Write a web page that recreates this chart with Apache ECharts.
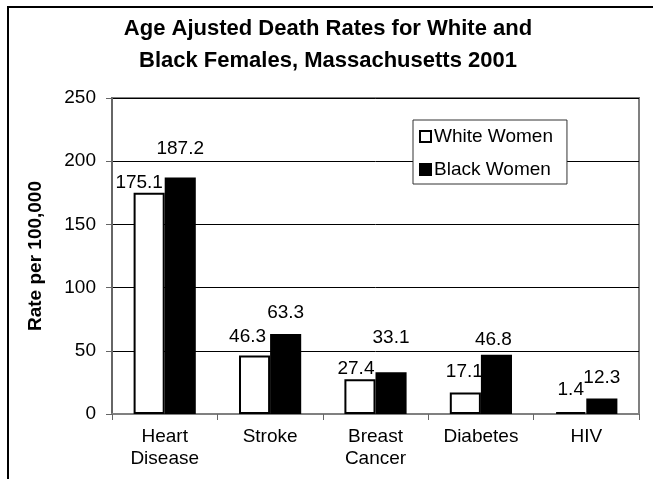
<!DOCTYPE html>
<html>
<head>
<meta charset="utf-8">
<script src="https://cdn.jsdelivr.net/npm/echarts@6/dist/echarts.min.js"></script>
<style>
  html, body { margin: 0; padding: 0; background: #fff; }
  #chart { width: 653px; height: 479px; }
</style>
</head>
<body>
<div id="chart"></div>
<script>
// Datos del gráfico
const causas = ['Heart\nDisease', 'Stroke', 'Breast\nCancer', 'Diabetes', 'HIV'];
const mujeresBlancas = [175.1, 46.3, 27.4, 17.1, 1.4];
const mujeresNegras = [187.2, 63.3, 33.1, 46.8, 12.3];
const nombresSeries = ['White Women', 'Black Women'];

// Desplazamiento de cada etiqueta (colocadas a mano en el original)
const despBlancas = [[-10, -2], [-7, -11], [-4, -3], [-1, -13], [0, -14]];
const despNegras = [[0, -21], [0, -13], [0, -26], [-3, -7], [0, -13]];

const fuente = 'Liberation Sans, Arial, sans-serif';

function conEtiquetas(valores, desp) {
    return valores.map((v, i) => ({ value: v, label: { offset: desp[i] } }));
}

const etiqueta = {
    show: true,
    position: 'top',
    distance: 0,
    color: '#000',
    fontFamily: fuente,
    fontSize: 19,
    lineHeight: 16
};

const option = {
    animation: false,
    backgroundColor: '#fff',
    textStyle: { fontFamily: fuente, color: '#000' },
    title: {
        text: 'Age Ajusted Death Rates for White and\nBlack Females, Massachusetts 2001',
        left: 328,
        textAlign: 'center',
        top: 13,
        padding: 0,
        textStyle: { fontFamily: fuente, fontSize: 22, fontWeight: 'bold', color: '#000', lineHeight: 32 }
    },
    legend: {
        orient: 'vertical',
        left: 413,
        top: 120,
        padding: [7, 14, 5, 6],
        itemGap: 14,
        itemWidth: 11,
        itemHeight: 11,
        icon: 'rect',
        borderColor: '#333',
        borderWidth: 1,
        backgroundColor: '#fff',
        textStyle: { fontFamily: fuente, fontSize: 19, color: '#000', lineHeight: 19, padding: [0, 0, 0, -2] },
        data: nombresSeries
    },
    grid: {
        left: 112,
        right: 14,
        top: 98,
        bottom: 65,
        show: true,
        borderColor: '#808080',
        borderWidth: 2,
        backgroundColor: 'transparent'
    },
    xAxis: {
        type: 'category',
        data: causas,
        axisLine: { lineStyle: { color: '#808080', width: 2 } },
        axisTick: { show: true, length: 6, lineStyle: { color: '#666' } },
        axisLabel: { color: '#000', fontFamily: fuente, fontSize: 19, lineHeight: 22, margin: 12 }
    },
    yAxis: {
        type: 'value',
        min: 0,
        max: 250,
        interval: 50,
        name: 'Rate per 100,000',
        nameLocation: 'middle',
        nameGap: 67,
        nameTextStyle: { fontFamily: fuente, fontSize: 19, fontWeight: 'bold', color: '#000' },
        axisLine: { show: true, lineStyle: { color: '#666', width: 2 } },
        axisTick: { show: true, length: 6, lineStyle: { color: '#666' } },
        axisLabel: { color: '#000', fontFamily: fuente, fontSize: 19, margin: 16 },
        splitLine: { lineStyle: { color: '#000', width: 1 } }
    },
    graphic: [
        {
            type: 'rect',
            shape: { x: 8, y: 7, width: 700, height: 520 },
            style: { fill: 'none', stroke: '#000', lineWidth: 2 },
            silent: true
        }
    ],
    series: [
        {
            name: nombresSeries[0],
            type: 'bar',
            data: conEtiquetas(mujeresBlancas, despBlancas),
            barGap: '0%',
            barCategoryGap: '41%',
            itemStyle: { color: '#fff', borderColor: '#000', borderWidth: 2 },
            label: etiqueta
        },
        {
            name: nombresSeries[1],
            type: 'bar',
            data: conEtiquetas(mujeresNegras, despNegras),
            barGap: '0%',
            barCategoryGap: '41%',
            itemStyle: { color: '#000', borderColor: '#000', borderWidth: 2 },
            label: etiqueta
        }
    ]
};

const chart = echarts.init(document.getElementById('chart'));
chart.setOption(option);
</script>
</body>
</html>
